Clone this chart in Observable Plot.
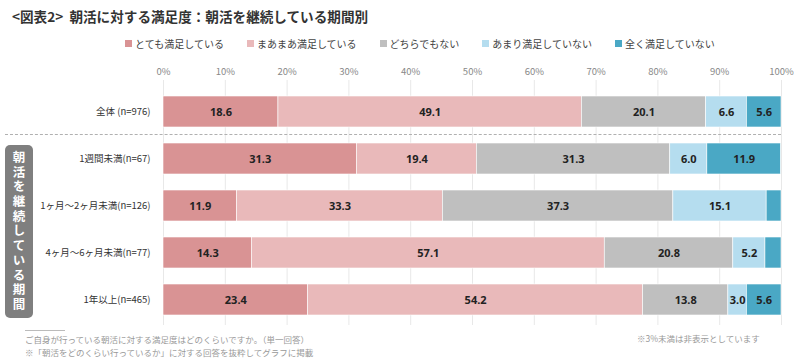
<!DOCTYPE html>
<html>
<head>
<meta charset="utf-8">
<script src="https://cdn.jsdelivr.net/npm/d3@7"></script>
<script src="https://cdn.jsdelivr.net/npm/@observablehq/plot@0.6"></script>
<style>
  body { margin: 0; background: #fff; font-family: "Noto Sans CJK JP", "Noto Sans", sans-serif; }
  #wrap { position: relative; width: 800px; height: 364px; overflow: hidden; }
  #chart { position: absolute; left: 0; top: 0; }
  #title { position: absolute; left: 12px; top: 6px; font-size: 13.6px; font-weight: bold; color: #333; white-space: nowrap; }
  #legend { position: absolute; left: 125px; top: 36px; font-size: 10px; color: #444; white-space: nowrap; display: flex; }
  #legend .item { display: flex; align-items: center; margin-right: 23px; }
  #legend .sw { width: 7px; height: 7px; margin-right: 3px; display: inline-block; }
  #sep { position: absolute; left: 5px; top: 134px; width: 776px; border-top: 1px dashed #b0b0b0; }
  #group { position: absolute; left: 5px; top: 145px; width: 28px; height: 173px; background: #7f7f7f; border-radius: 5px;
           color: #fff; font-weight: bold; font-size: 12.5px; writing-mode: vertical-rl; text-orientation: upright;
           display: flex; align-items: center; justify-content: center; letter-spacing: 2.2px; }
  #rule { position: absolute; left: 25px; top: 330px; width: 40px; border-top: 1px solid #bbb; }
  .note { position: absolute; font-size: 8.5px; color: #999; white-space: nowrap; }
</style>
</head>
<body>
<div id="wrap">
  <div id="chart"></div>
  <div id="title">&lt;図表2&gt;&nbsp; 朝活に対する満足度：朝活を継続している期間別</div>
  <div id="legend"></div>
  <div id="sep"></div>
  <div id="group">朝活を継続している期間</div>
  <div id="rule"></div>
  <div class="note" style="left:25px; top:333px;">ご自身が行っている朝活に対する満足度はどのくらいですか。（単一回答）</div>
  <div class="note" style="left:25px; top:346px;">※「朝活をどのくらい行っているか」に対する回答を抜粋してグラフに掲載</div>
  <div class="note" style="left:637px; top:332px;">※3%未満は非表示としています</div>
</div>
<script>
const categories = ["全体 (n=976)", "1週間未満(n=67)", "1ヶ月〜2ヶ月未満(n=126)", "4ヶ月〜6ヶ月未満(n=77)", "1年以上(n=465)"];
const seriesNames = ["とても満足している", "まあまあ満足している", "どちらでもない", "あまり満足していない", "全く満足していない"];
const colors = ["#d99394", "#e9b9ba", "#bfbfbf", "#b5ddef", "#4aa8c5"];
const verySatisfied   = [18.6, 31.3, 11.9, 14.3, 23.4];
const fairlySatisfied = [49.1, 19.4, 33.3, 57.1, 54.2];
const neutral         = [20.1, 31.3, 37.3, 20.8, 13.8];
const notVery         = [6.6, 6.0, 15.1, 5.2, 3.0];
const notAtAll        = [5.6, 11.9, 2.4, 2.6, 5.6];
const xTicks = [0, 10, 20, 30, 40, 50, 60, 70, 80, 90, 100];

const seriesValues = [verySatisfied, fairlySatisfied, neutral, notVery, notAtAll];
const data = [];
seriesNames.forEach((s, si) => {
  categories.forEach((c, ci) => data.push({cat: c, series: s, value: seriesValues[si][ci]}));
});

const leg = d3.select("#legend");
seriesNames.forEach((s, i) => {
  const it = leg.append("div").attr("class", "item");
  it.append("span").attr("class", "sw").style("background", colors[i]);
  it.append("span").text(s);
});

const plot = Plot.plot({
  width: 800,
  height: 364,
  marginTop: 87,
  marginBottom: 39,
  marginLeft: 163,
  marginRight: 19,
  style: {fontFamily: "'Noto Sans CJK JP', 'Noto Sans', sans-serif", background: "transparent"},
  x: {domain: [0, 100]},
  y: {domain: categories, paddingInner: 0.337, paddingOuter: 0.17},
  color: {domain: seriesNames, range: colors},
  marks: [
    Plot.gridX(xTicks, {stroke: "#e8e8e8", strokeOpacity: 1, insetTop: -7}),
    Plot.axisX(xTicks, {anchor: "top", tickSize: 0, tickPadding: 13, tickFormat: d => d + "%", fontSize: 9.5, fill: "#888", label: null}),
    Plot.axisY({tickSize: 0, tickPadding: 13, fontSize: 9.5, fill: "#333", label: null}),
    Plot.barX(data, Plot.stackX({x: "value", y: "cat", fill: "series", z: "series", stroke: "#fff", strokeWidth: 0.6})),
    Plot.text(data, Plot.stackX({x: "value", y: "cat", z: "series",
      text: d => d.value >= 3 ? d.value.toFixed(1) : "",
      fill: "#222", fontWeight: "bold", fontSize: 11, fontFamily: "'Noto Sans', sans-serif"}))
  ]
});
document.getElementById("chart").appendChild(plot);
</script>
</body>
</html>
